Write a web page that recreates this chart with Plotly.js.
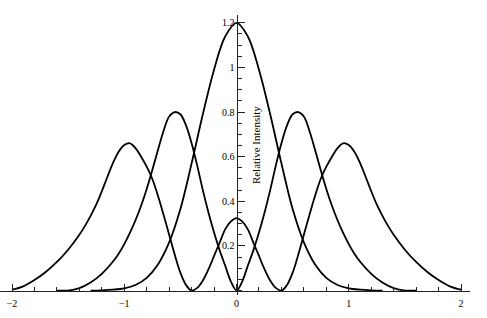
<!DOCTYPE html>
<html><head><meta charset="utf-8">
<script src="https://cdn.plot.ly/plotly-3.0.1.min.js"></script>
<style>html,body{margin:0;padding:0;background:#fff}#chart{width:487px;height:318px}</style>
</head><body><div id="chart"></div>
<script>
// Curve A: central peak
const xA = [-1.3,-1.2,-1.1,-1.0,-0.9,-0.8,-0.7,-0.6,-0.5,-0.4,-0.3,-0.2,-0.1,0,0.1,0.2,0.3,0.4,0.5,0.6,0.7,0.8,0.9,1.0,1.1,1.2,1.3];
const yA = [0,0.001,0.004,0.010,0.025,0.057,0.117,0.216,0.365,0.57,0.79,0.99,1.14,1.2,1.14,0.99,0.79,0.57,0.365,0.216,0.117,0.057,0.025,0.010,0.004,0.001,0];
// Curve B: two side peaks, zero at centre
const xB = [-1.6,-1.5,-1.4,-1.3,-1.2,-1.1,-1.05,-1.0,-0.95,-0.9,-0.85,-0.8,-0.75,-0.7,-0.65,-0.6,-0.55,-0.5,-0.45,-0.4,-0.35,-0.3,-0.25,-0.2,-0.15,-0.1,-0.05,0,
            0.05,0.1,0.15,0.2,0.25,0.3,0.35,0.4,0.45,0.5,0.55,0.6,0.65,0.7,0.75,0.8,0.85,0.9,0.95,1.0,1.05,1.1,1.2,1.3,1.4,1.5,1.6];
const yB = [0,0,0.011,0.036,0.075,0.13,0.165,0.208,0.258,0.315,0.38,0.455,0.54,0.63,0.715,0.78,0.80,0.79,0.74,0.66,0.56,0.45,0.35,0.26,0.18,0.11,0.04,0,
            0.04,0.11,0.18,0.26,0.35,0.45,0.56,0.66,0.74,0.79,0.80,0.78,0.715,0.63,0.54,0.455,0.38,0.315,0.258,0.208,0.165,0.13,0.075,0.036,0.011,0,0];
// Curve C: small central lobe, two outer peaks
const xC = [-2.0,-1.9,-1.8,-1.7,-1.6,-1.5,-1.4,-1.35,-1.3,-1.25,-1.2,-1.15,-1.1,-1.05,-1.0,-0.95,-0.9,-0.85,-0.8,-0.75,-0.7,-0.65,-0.6,-0.55,-0.5,-0.45,-0.4,-0.35,-0.3,-0.25,-0.2,-0.15,-0.1,-0.05,0,
            0.05,0.1,0.15,0.2,0.25,0.3,0.35,0.4,0.45,0.5,0.55,0.6,0.65,0.7,0.75,0.8,0.85,0.9,0.95,1.0,1.05,1.1,1.15,1.2,1.25,1.3,1.35,1.4,1.5,1.6,1.7,1.8,1.9,2.0];
const yC = [0.004,0.019,0.047,0.083,0.128,0.183,0.25,0.29,0.335,0.385,0.445,0.51,0.572,0.622,0.652,0.66,0.638,0.60,0.555,0.50,0.425,0.34,0.25,0.16,0.08,0.025,0,0.012,0.045,0.095,0.155,0.215,0.275,0.31,0.325,
            0.31,0.275,0.215,0.155,0.095,0.045,0.012,0,0.025,0.08,0.16,0.25,0.34,0.425,0.50,0.555,0.60,0.638,0.66,0.652,0.622,0.572,0.51,0.445,0.385,0.335,0.29,0.25,0.183,0.128,0.083,0.047,0.019,0.004];

const xTicks = [-2,-1,0,1,2];
const xTickText = ['\u22122','\u22121','0','1','2'];
const yTicks = [0.2,0.4,0.6,0.8,1.0,1.2];
const yTickText = ['0.2','0.4','0.6','0.8','1','1.2'];

const lineStyle = {color:'#000', width:1.8, shape:'spline', smoothing:1};
const traces = [
  {x:xA, y:yA, mode:'lines', line:lineStyle, hoverinfo:'skip'},
  {x:xB, y:yB, mode:'lines', line:lineStyle, hoverinfo:'skip'},
  {x:xC, y:yC, mode:'lines', line:lineStyle, hoverinfo:'skip'}
];
const xr = [-2.107, 2.08], yr = [-0.02, 1.235];
const font = {family:'"Liberation Serif", "DejaVu Serif", serif', size:10, color:'#000'};
const layout = {
  width:487, height:318,
  margin:{l:0, r:17, t:15, b:23, pad:0},
  paper_bgcolor:'#fff', plot_bgcolor:'#fff',
  showlegend:false,
  font:font,
  xaxis:{range:xr, anchor:'free', position:(0-yr[0])/(yr[1]-yr[0]),
    showgrid:false, zeroline:false, showline:true, linecolor:'#222', linewidth:1,
    tickmode:'array', tickvals:xTicks, ticktext:xTickText,
    ticks:'inside', ticklen:7, tickwidth:1, tickcolor:'#222', tickfont:font, ticklabelstandoff:3,
    minor:{tickmode:'linear', tick0:0, dtick:0.2, ticks:'inside', ticklen:4, tickwidth:1, tickcolor:'#222'},
    fixedrange:true},
  yaxis:{range:yr, anchor:'free', position:(0-xr[0])/(xr[1]-xr[0]),
    showgrid:false, zeroline:false, showline:true, linecolor:'#222', linewidth:1,
    tickmode:'array', tickvals:yTicks, ticktext:yTickText,
    ticks:'inside', ticklen:7, tickwidth:1, tickcolor:'#222', tickfont:font,
    minor:{tickmode:'linear', tick0:0, dtick:0.05, ticks:'inside', ticklen:4, tickwidth:1, tickcolor:'#222'},
    fixedrange:true},
  annotations:[{text:'Relative Intensity', x:0.174, y:0.652, xref:'x', yref:'y',
    textangle:-90, showarrow:false, font:{family:font.family, size:11, color:'#000'}}]
};
Plotly.newPlot('chart', traces, layout, {staticPlot:true, displayModeBar:false});
</script></body></html>
